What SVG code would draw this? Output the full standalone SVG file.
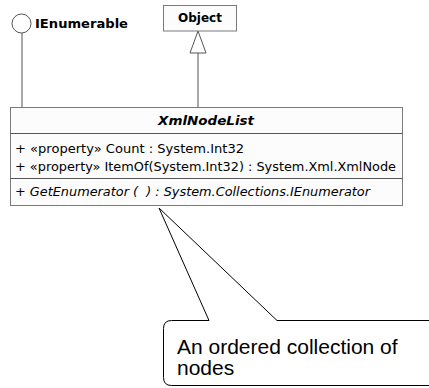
<svg xmlns="http://www.w3.org/2000/svg" width="429" height="388" viewBox="0 0 429 388">
  <style>
    .box { fill: #fcfcfc; stroke: #7a7a7a; stroke-width: 1; }
    .sep { stroke: #555; stroke-width: 1; }
    .edge { fill: none; stroke: #555; stroke-width: 1; }
    .bold { font-family: "DejaVu Sans", Verdana, sans-serif; font-weight: bold; font-size: 12px; fill: #000; }
    .member { font-family: "DejaVu Sans", Verdana, sans-serif; font-size: 12px; fill: #000; }
    .note { fill: #fff; stroke: #000; stroke-width: 1; }
    .notetext { font-family: "Liberation Sans", Arial, sans-serif; font-size: 21px; fill: #000; }
  </style>

  <g id="connectors">
    <!-- lollipop interface realization -->
    <line class="edge" x1="22" y1="33" x2="22" y2="107"/>
    <!-- generalization to Object -->
    <line class="edge" x1="198" y1="53" x2="198" y2="107"/>
    <polygon points="198,31 190,53 206,53" fill="#fff" stroke="#555" stroke-width="1"/>
  </g>

  <g id="IEnumerable">
    <circle cx="21.5" cy="23.5" r="9.5" fill="#fff" stroke="#555" stroke-width="1"/>
    <text class="bold" x="35" y="28" textLength="93" lengthAdjust="spacingAndGlyphs">IEnumerable</text>
  </g>

  <g id="Object">
    <rect class="box" x="163.5" y="5.5" width="73" height="25.5"/>
    <text class="bold" x="200" y="22" text-anchor="middle">Object</text>
  </g>

  <g id="XmlNodeList">
    <rect class="box" x="10.5" y="107.5" width="392" height="98"/>
    <line class="sep" x1="10.5" y1="133.5" x2="402.5" y2="133.5"/>
    <line class="sep" x1="10.5" y1="178.5" x2="402.5" y2="178.5"/>
    <text class="bold" x="206" y="125" text-anchor="middle" font-style="italic" textLength="96" lengthAdjust="spacingAndGlyphs">XmlNodeList</text>
    <text class="member" x="15" y="153" textLength="229" lengthAdjust="spacingAndGlyphs">+ «property» Count : System.Int32</text>
    <text class="member" x="15" y="171" textLength="381" lengthAdjust="spacingAndGlyphs">+ «property» ItemOf(System.Int32) : System.Xml.XmlNode</text>
    <text class="member" x="15" y="196" font-style="italic" textLength="355" lengthAdjust="spacingAndGlyphs">+ GetEnumerator (&#160;&#160;) : System.Collections.IEnumerator</text>
  </g>

  <g id="note">
    <path class="note" d="M 209 320.5 L 159 208 L 277 320.5 L 440 320.5 L 440 385.5 L 171.5 385.5 Q 163.5 385.5 163.5 377.5 L 163.5 328.5 Q 163.5 320.5 171.5 320.5 Z"/>
    <text class="notetext" x="177" y="354">An ordered collection of</text>
    <text class="notetext" x="177" y="375">nodes</text>
  </g>
</svg>
